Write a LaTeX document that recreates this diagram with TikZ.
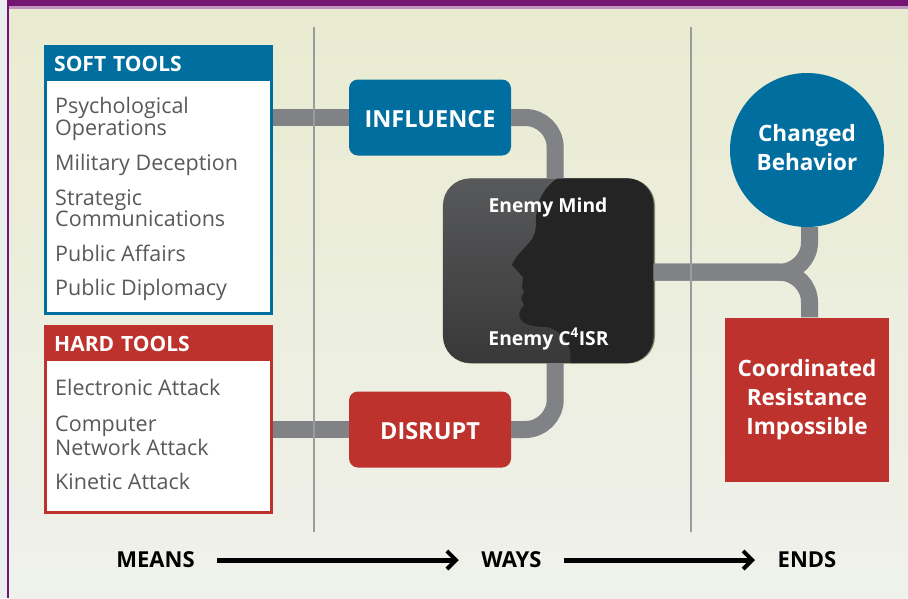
\documentclass[tikz,border=0pt]{standalone}
\usepackage{fontspec}
\setmainfont{Open Sans}
\usetikzlibrary{arrows.meta}
\definecolor{toolblue}{HTML}{006F9F}
\definecolor{toolred}{HTML}{BD322D}
\definecolor{pipegray}{HTML}{818286}
\definecolor{rulegray}{HTML}{9A9B9E}
\definecolor{itemgray}{HTML}{58595B}
\definecolor{framepurple}{HTML}{741473}
\definecolor{paper}{HTML}{E9EEEE}
\definecolor{skytop}{HTML}{E9EBD0}
\definecolor{skybottom}{HTML}{EFF1EC}
\definecolor{headshadow}{HTML}{85856C}
\begin{document}
\begin{tikzpicture}[x=1pt,y=-1pt,
        toolbox/.style={draw,line width=3pt,fill=white,minimum width=226pt,inner sep=0pt},
        toolhead/.style={anchor=north west,inner sep=0pt,text=white,font=\fontsize{21}{21}\selectfont\bfseries,
                         minimum width=229pt,text width=209pt,align=left},
        item/.style={anchor=west,inner sep=0pt,text=itemgray,align=left,font=\fontsize{21.5}{21}\selectfont},
        action/.style={rounded corners=9pt,text=white,font=\fontsize{23.5}{24}\selectfont\bfseries,minimum height=76pt,
                       inner sep=0pt,text height=20pt},
        result/.style={text=white,align=center,font=\fontsize{22.5}{29}\selectfont\bfseries,inner sep=0pt},
        stage/.style={text=black,inner ysep=0pt,inner xsep=22.5pt,font=\fontsize{22}{22}\selectfont\bfseries},
        enemytext/.style={text=white,inner sep=0pt,font=\fontsize{19.3}{19}\selectfont\bfseries},
        pipe/.style={draw=pipegray,line width=17pt,rounded corners=30pt},
        divider/.style={draw=rulegray,line width=2.5pt},
        march/.style={line width=5pt,-{Straight Barb[length=9pt,width=18pt,line width=4pt]}}]
        \useasboundingbox (0, 0) rectangle (908, 598);

        % Rahmen
        \fill[paper] (0, 0) rectangle (908, 598);
        \shade[top color=skytop,bottom color=skybottom] (8, 8) rectangle (908, 598);
        \fill[framepurple] (7, 0) rectangle (908, 6);
        \fill[framepurple!45!white] (9, 6) rectangle (908, 9);
        \fill[framepurple] (7, 0) rectangle (9, 598);

        % Soft tools
        \node[toolbox,draw=toolblue,minimum height=267pt] (softbox) at (158.5, 180) {};
        \node[toolhead,fill=toolblue,minimum height=36pt,text height=17pt] (softhead) at (44, 45) {SOFT TOOLS};
        \node[item] (psyops) at (55, 119) {Psychological\\[0.5pt]Operations};
        \node[item] (deception) at (55, 164.5) {Military Deception};
        \node[item] (stratcom) at (55, 208.5) {Strategic\\[0pt]Communications};
        \node[item] (affairs) at (55, 253.5) {Public Affairs};
        \node[item] (diplomacy) at (55, 289.5) {Public Diplomacy};

        % Hard tools
        \node[toolbox,draw=toolred,minimum height=186pt] (hardbox) at (158.5, 419.5) {};
        \node[toolhead,fill=toolred,minimum height=36pt,text height=17pt] (hardhead) at (44, 325) {HARD TOOLS};
        \node[item] (electronic) at (55, 387.5) {Electronic Attack};
        \node[item] (network) at (55, 436) {Computer\\[1pt]Network Attack};
        \node[item] (kinetic) at (55, 481.5) {Kinetic Attack};

        % Mittelteil
        \node[action,fill=toolblue,minimum width=162pt] (influence) at (430, 117.5) {INFLUENCE};
        \node[action,fill=toolred,minimum width=162pt] (disrupt) at (430, 429.5) {DISRUPT};

        % Kopf
        \fill[rounded corners=27pt,headshadow] (444, 178.5) rectangle (655, 363.5);
        \node[rounded corners=27pt,minimum width=210.5pt,minimum height=184.5pt,inner sep=0pt,
              top color=itemgray,bottom color=black!78!white] (enemy) at (548.2, 270.7) {};
        \begin{scope}
            \clip[rounded corners=27pt] (enemy.north west) rectangle (enemy.south east);
            \fill[black!86!white] (558, 178) .. controls (545, 186) and (537, 200) .. (536, 218)
                .. controls (536, 232) and (535, 236) .. (529, 243)
                .. controls (522, 251) and (514, 258) .. (512, 265)
                -- (523, 277) -- (522, 287) -- (524, 292) -- (521, 298) -- (524, 305)
                .. controls (520, 310) and (518, 314) .. (520, 318)
                .. controls (522, 324) and (532, 327) .. (547, 327)
                .. controls (556, 329) and (566, 336) .. (570, 350)
                -- (571, 364) -- (656, 364) -- (656, 178) -- cycle;
        \end{scope}
        \node[enemytext] (mind) at (548, 207) {Enemy Mind};
        \node[enemytext] (cisr) at (548.5, 339) {Enemy C\textsuperscript{4}ISR};

        % Ergebnisse
        \node[circle,fill=toolblue,minimum size=154pt,inner sep=0pt] (changed) at (807, 150) {};
        \node[result] (changedtext) at (807, 147.5) {Changed\\Behavior};
        \node[fill=toolred,minimum width=164pt,minimum height=164pt,result] (coordinated) at (807, 399.5) {Coordinated\\Resistance\\Impossible};

        % Leitungen
        \draw[pipe] (softbox.east |- influence) -- (influence.west);
        \draw[pipe] (hardbox.east |- disrupt) -- (disrupt.west);
        \draw[pipe] (influence.east) -| ([xshift=7pt]enemy.north);
        \draw[pipe] (disrupt.east) -| ([xshift=7pt]enemy.south);
        \draw[pipe] ([yshift=-1.5pt]enemy.east) -| ([xshift=2.5pt]changed.south);
        \draw[pipe] ([yshift=-1.5pt]enemy.east) -| ([xshift=2.5pt]coordinated.north);

        % Trennlinien
        \coordinate (meanstop) at (314, 27);
        \coordinate (meansbottom) at (314, 532);
        \coordinate (waystop) at (691, 27);
        \coordinate (waysbottom) at (691, 532);
        \draw[divider] (meanstop) -- (meansbottom);
        \draw[divider] (waystop) -- (waysbottom);

        % Achse
        \node[stage] (means) at (155.5, 560) {MEANS};
        \node[stage] (ways) at (511.5, 560) {WAYS};
        \node[stage] (ends) at (807, 560) {ENDS};
        \draw[march] (means) -- (ways);
        \draw[march] (ways) -- (ends);
\end{tikzpicture}
\end{document}
